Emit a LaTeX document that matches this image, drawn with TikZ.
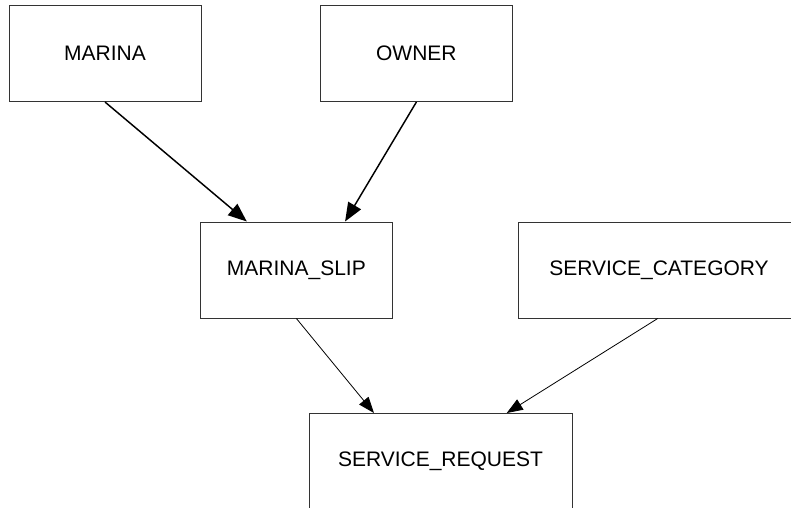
\documentclass[tikz,border=0pt]{standalone}
\usepackage{fontspec}
\setmainfont{Liberation Sans}
\usetikzlibrary{arrows.meta}
\tikzset{
  entity/.style={draw=black!80, line width=0.75pt, fill=white, inner sep=0pt,
    minimum height=72pt, font=\fontsize{15.75pt}{18pt}\selectfont},
  bigarrow/.style={-{Triangle[length=14pt,width=11pt]}, line width=1.1pt},
  smallarrow/.style={-{Triangle[length=12pt,width=9pt]}, line width=0.6pt}
}
\begin{document}
\begin{tikzpicture}[x=0.75pt,y=0.75pt,yscale=-1,xscale=1]
        \useasboundingbox (0,0) rectangle (791,507);
        \clip (0,0) rectangle (791,507);
        % Entity Nodes
        \node [entity, minimum width=144pt] (marina) at (105,53.5) {MARINA};
        \node [entity, minimum width=143.5pt] (owner) at (416.4,53.5) {OWNER};
        \node [entity, minimum width=143.5pt] (slip) at (296.4,270) {MARINA\_SLIP};
        \node [entity, minimum width=211.5pt] (category) at (659,270) {SERVICE\_CATEGORY};
        \node [entity, minimum width=197.25pt] (request) at (440.5,461.5) {SERVICE\_REQUEST};
        % Connections
        \draw [bigarrow] (marina.south) -- ([xshift=-37.2pt]slip.north);
        \draw [bigarrow] (owner.south) -- ([xshift=36.5pt]slip.north);
        \draw [smallarrow] (slip.south) -- ([xshift=-49.9pt]request.north);
        \draw [smallarrow] ([xshift=-1pt]category.south) -- ([xshift=49.7pt]request.north);
    \end{tikzpicture}
\end{document}
